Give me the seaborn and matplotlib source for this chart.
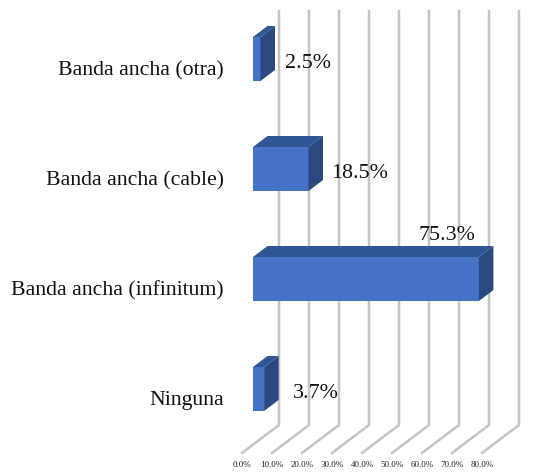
import matplotlib
matplotlib.use("Agg")
import matplotlib.pyplot as plt
from matplotlib.patches import Polygon
from matplotlib.transforms import ScaledTranslation
import pandas as pd
import seaborn as sns

categorias = ["Banda ancha (otra)", "Banda ancha (cable)", "Banda ancha (infinitum)", "Ninguna"]
valores = [2.5, 18.5, 75.3, 3.7]
ticks = [0, 10, 20, 30, 40, 50, 60, 70, 80]

# desplazamiento de las etiquetas respecto a la barra, en pixeles
nudge_x = [24, 23, -60, 29]
nudge_y = [4, 4, -43, 4]

W, H = 534, 476
PX_X = 3.0    # pixeles por 1%
PX_Y = 110.0  # pixeles entre categorias
x0, y0 = 253, 59  # pixel del 0% y de la primera categoria
bottom = 453
left = 242

FRONT = "#4472C4"
TOP = "#2F5597"
SIDE = "#2A4A7F"
GRID = "#C4C4C4"

plt.rcParams["font.family"] = ["Liberation Serif", "DejaVu Serif"]

df = pd.DataFrame({"cat": categorias, "val": valores})

fig = plt.figure(figsize=(W / 100, H / 100), dpi=100)
ax = fig.add_axes([left / W, (H - bottom) / H, (W - left) / W, bottom / H])

sns.barplot(data=df, x="val", y="cat", color=FRONT, saturation=1, width=0.4,
            orient="h", ax=ax, zorder=3)

# caras de profundidad de las barras
dx = 14.5 / PX_X
dy = 11 / PX_Y
for bar in list(ax.patches):
    xa, ya = bar.get_x(), bar.get_y()
    w, h = bar.get_width(), bar.get_height()
    ax.add_patch(Polygon([(xa, ya), (xa + w, ya), (xa + w + dx, ya - dy), (xa + dx, ya - dy)],
                         closed=True, facecolor=TOP, edgecolor="none", zorder=3))
    ax.add_patch(Polygon([(xa + w, ya), (xa + w + dx, ya - dy), (xa + w + dx, ya + h - dy), (xa + w, ya + h)],
                         closed=True, facecolor=SIDE, edgecolor="none", zorder=3))

# rejilla en perspectiva
back_x = 26 / PX_X
front_x = -11 / PX_X
y_top = (11 - y0) / PX_Y
y_back = (425 - y0) / PX_Y
y_front = (bottom - y0) / PX_Y
for t in ticks:
    ax.plot([t + back_x, t + back_x, t + front_x], [y_top, y_back, y_front],
            color=GRID, lw=1.8, zorder=1, solid_joinstyle="miter", clip_on=False)

for i, v in enumerate(valores):
    ax.text(v + nudge_x[i] / PX_X, i + nudge_y[i] / PX_Y, f"{v:.1f}%",
            fontsize=15.8, color="#111111", ha="left", va="center", zorder=4)

ax.set_xlim((left - x0) / PX_X, (W - x0) / PX_X)
ax.set_ylim((bottom - y0) / PX_Y, -y0 / PX_Y)
ax.set_xticks([t + front_x for t in ticks])
ax.set_xticklabels([f"{t:.1f}%" for t in ticks], fontsize=6.5, color="#222222")
ax.tick_params(axis="x", length=0, pad=6)
ax.tick_params(axis="y", length=0, pad=13, labelsize=15.7, labelcolor="#111111")
ax.set_xlabel("")
ax.set_ylabel("")

# las etiquetas de categoria quedan un poco por debajo de la barra
bajar = ScaledTranslation(0, -9 / 100, fig.dpi_scale_trans)
for lab in ax.get_yticklabels():
    lab.set_transform(lab.get_transform() + bajar)

sns.despine(ax=ax, left=True, bottom=True)
ax.patch.set_alpha(0)

fig.savefig("out.png", dpi=100)
